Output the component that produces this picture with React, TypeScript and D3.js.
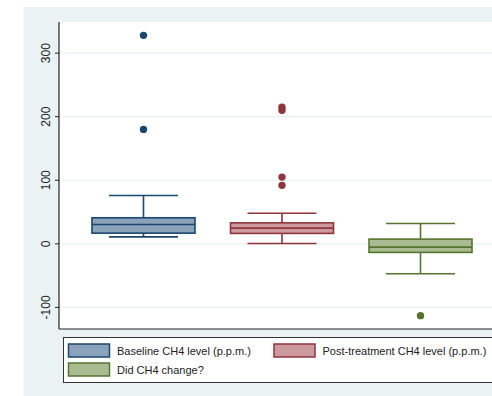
import React from 'react';
import * as d3 from 'd3';

// box plot summaries
const categories = ['Baseline CH4 level (p.p.m.)', 'Post-treatment CH4 level (p.p.m.)', 'Did CH4 change?'];
const q1 = [16.8, 16.4, -13.5];
const medians = [30.5, 24.7, -5.2];
const q3 = [41, 33, 7.4];
const whiskerLow = [11, 0.5, -47];
const whiskerHigh = [76, 48, 32];
const outliers = [[328, 180], [215, 210, 105, 92], [-113]];
const yTicks = [-100, 0, 100, 200, 300];

const strokes = ['#1a476f', '#90353b', '#55752f'];
const fills = ['#8ba2bb', '#cc999e', '#a9bb90'];

const W = 492;
const H = 396;

const App = () => {
  const plot = { left: 59, right: 505, top: 22, bottom: 329 };

  const y = d3.scaleLinear().domain([-134, 349]).range([plot.bottom, plot.top]);
  const x = d3.scalePoint<string>()
    .domain(categories)
    .range([plot.left, plot.right])
    .padding(0.61);

  const boxW = 103;
  const capW = 69;

  const legend = { x: 63.5, y: 337.5, w: 440, h: 45 };

  return (
    <svg
      width={W}
      height={H}
      style={{ position: 'absolute', left: 0, top: 0 }}
      fontFamily="'Liberation Sans', Arial, sans-serif"
    >
      <rect x={0} y={0} width={W} height={H} fill="#fff" />
      <rect x={23.5} y={7} width={W} height={H} fill="#eaf2f3" />
      <rect x={plot.left} y={plot.top} width={plot.right - plot.left} height={plot.bottom - plot.top} fill="#fff" />

      {/* grid + y axis */}
      {yTicks.map(t => (
        <g key={t} transform={`translate(0,${y(t)})`}>
          <line x1={plot.left} x2={plot.right} stroke="#eaf2f3" strokeWidth={1.2} />
          <line x1={plot.left - 4} x2={plot.left} stroke="#222" strokeWidth={1} />
          <text
            transform={`translate(49.5,0) rotate(-90)`}
            textAnchor="middle"
            fontSize={12}
            fill="#222"
          >
            {t}
          </text>
        </g>
      ))}
      <line x1={plot.left} x2={plot.left} y1={plot.top} y2={plot.bottom} stroke="#222" strokeWidth={1.2} />
      <line x1={plot.left} x2={plot.right} y1={plot.bottom} y2={plot.bottom} stroke="#222" strokeWidth={1.2} />

      {/* boxes */}
      {categories.map((c, i) => {
        const cx = x(c) as number;
        return (
          <g key={c} stroke={strokes[i]} strokeWidth={1.6}>
            <line x1={cx} x2={cx} y1={y(q3[i])} y2={y(whiskerHigh[i])} />
            <line x1={cx} x2={cx} y1={y(q1[i])} y2={y(whiskerLow[i])} />
            <line x1={cx - capW / 2} x2={cx + capW / 2} y1={y(whiskerHigh[i])} y2={y(whiskerHigh[i])} />
            <line x1={cx - capW / 2} x2={cx + capW / 2} y1={y(whiskerLow[i])} y2={y(whiskerLow[i])} />
            <rect
              x={cx - boxW / 2}
              y={y(q3[i])}
              width={boxW}
              height={y(q1[i]) - y(q3[i])}
              fill={fills[i]}
            />
            <line x1={cx - boxW / 2} x2={cx + boxW / 2} y1={y(medians[i])} y2={y(medians[i])} />
            {outliers[i].map((v, j) => (
              <circle key={j} cx={cx} cy={y(v)} r={3.7} fill={strokes[i]} stroke="none" />
            ))}
          </g>
        );
      })}

      {/* legend */}
      <rect x={legend.x} y={legend.y} width={legend.w} height={legend.h} fill="#fff" stroke="#333" strokeWidth={1} />
      {categories.map((c, i) => {
        const col = i % 2;
        const row = Math.floor(i / 2);
        const sx = legend.x + 5 + col * 205.5;
        const sy = legend.y + 6.5 + row * 19;
        return (
          <g key={c}>
            <rect x={sx} y={sy} width={41} height={13} fill={fills[i]} stroke={strokes[i]} strokeWidth={1.5} />
            <text x={sx + 48.5} y={sy + 11} fontSize={11} fill="#222">
              {c}
            </text>
          </g>
        );
      })}
    </svg>
  );
};

export default App;
